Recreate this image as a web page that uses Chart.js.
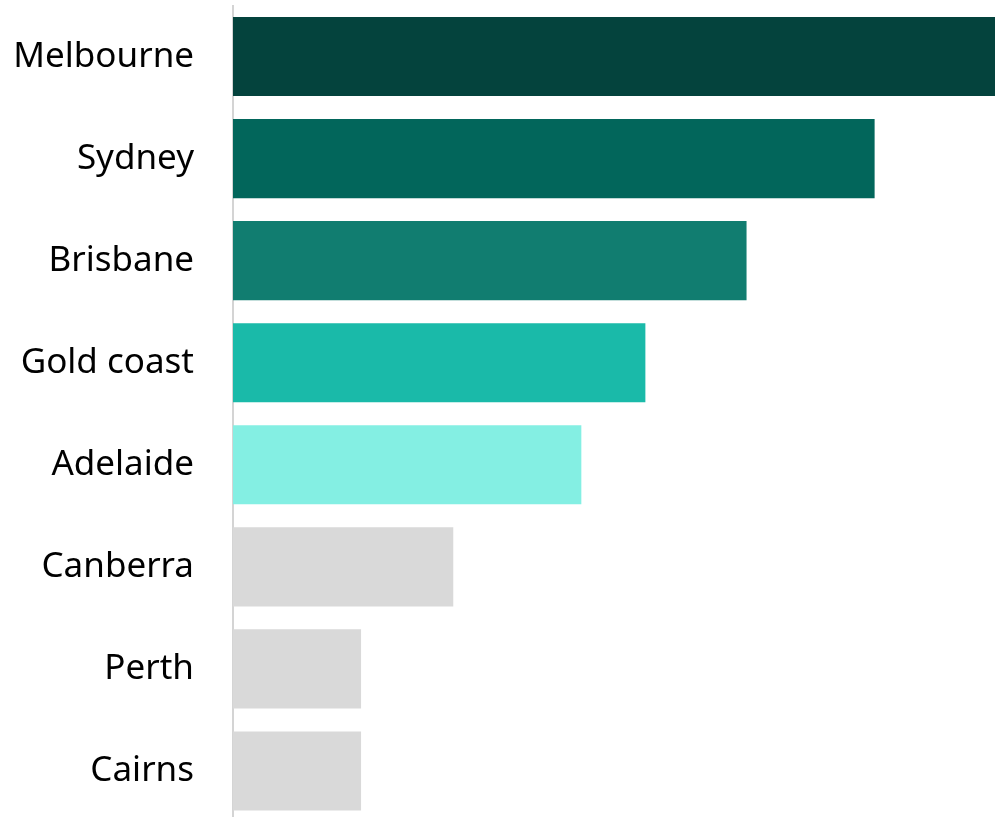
<!DOCTYPE html>
<html>
<head>
<meta charset="utf-8">
<script src="https://cdn.jsdelivr.net/npm/chart.js@4/dist/chart.umd.min.js"></script>
<style>
  html, body { margin: 0; padding: 0; overflow: hidden; background: #fff; }
  #wrap { width: 995px; height: 822px; position: relative; }
</style>
</head>
<body>
<div id="wrap"><canvas id="c"></canvas></div>
<script>
const categories = ["Melbourne", "Sydney", "Brisbane", "Gold coast", "Adelaide", "Canberra", "Perth", "Cairns"];
const values = [59.5, 50.1, 40.1, 32.2, 27.2, 17.2, 10, 10];
const barColors = ["#04433d", "#02665b", "#117d70", "#1abaa9", "#84efe3", "#d9d9d9", "#d9d9d9", "#d9d9d9"];
const xMax = 59.5;

new Chart(document.getElementById("c"), {
  type: "bar",
  data: {
    labels: categories,
    datasets: [{
      data: values,
      backgroundColor: barColors,
      borderWidth: 0,
      categoryPercentage: 1,
      barPercentage: 0.775
    }]
  },
  options: {
    indexAxis: "y",
    responsive: true,
    maintainAspectRatio: false,
    animation: false,
    layout: { padding: { top: 5.5, right: 0, bottom: 0, left: 0 } },
    plugins: { legend: { display: false }, tooltip: { enabled: false } },
    scales: {
      x: { display: false, min: 0, max: xMax },
      y: {
        grid: { display: false, drawTicks: false },
        border: { display: true, color: "#d4d4d4", width: 2 },
        ticks: {
          color: "#000",
          padding: 39,
          font: { family: "'Noto Sans', 'Open Sans', sans-serif", size: 35 }
        },
        afterFit: (s) => { s.width = 233; s.paddingTop = 0; s.paddingBottom = 0; }
      }
    }
  }
});
</script>
</body>
</html>
